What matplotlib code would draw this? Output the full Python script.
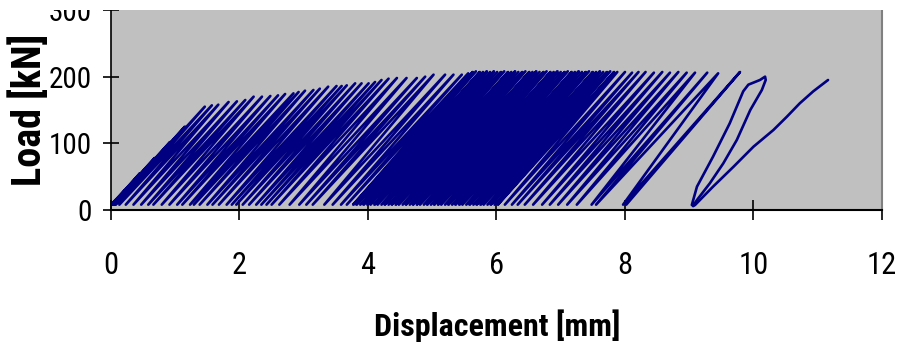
import matplotlib
matplotlib.use("Agg")
import matplotlib.pyplot as plt
from matplotlib import font_manager
from matplotlib.patches import Rectangle

# ---------------- data ----------------
min_load_kN = 8

cycle_start_mm = [
    0.00, 0.01, 0.02, 0.03, 0.05, 0.07,
    0.13, 0.23, 0.35, 0.47, 0.58, 0.66, 0.79, 0.91, 1.03, 1.11,
    1.23, 1.29, 1.38, 1.50, 1.58, 1.68, 1.80, 1.88, 1.95, 2.05,
    2.15, 2.26, 2.34, 2.42, 2.50, 2.62, 2.78, 2.93, 3.04, 3.14,
    3.32, 3.45, 3.58, 3.67,
    3.77, 3.82, 3.88, 3.93, 3.99, 4.04, 4.10, 4.15, 4.21, 4.26,
    4.32, 4.37, 4.43, 4.48, 4.54, 4.59, 4.65, 4.70, 4.76, 4.81,
    4.87, 4.92, 4.98, 5.03, 5.09, 5.14, 5.20, 5.25, 5.31, 5.36,
    5.42, 5.47, 5.53, 5.58, 5.64, 5.69, 5.75, 5.80, 5.86, 5.91,
    5.97, 6.02,
    6.13, 6.24, 6.33, 6.44, 6.57, 6.71, 6.83, 6.96, 7.10, 7.25,
    7.48, 7.55, 7.97,
]
cycle_peak_mm = [
    0.22, 0.45, 0.68, 0.92, 1.15, 1.46,
    1.57, 1.67, 1.83, 1.96, 2.09, 2.22, 2.35, 2.48, 2.60, 2.71,
    2.84, 2.92, 3.02, 3.15, 3.25, 3.38, 3.51, 3.59, 3.67, 3.80,
    3.90, 4.01, 4.11, 4.21, 4.32, 4.45, 4.60, 4.76, 4.89, 5.02,
    5.20, 5.33, 5.46, 5.56,
    5.63, 5.68, 5.74, 5.79, 5.85, 5.90, 5.96, 6.01, 6.07, 6.12,
    6.18, 6.23, 6.29, 6.34, 6.40, 6.45, 6.51, 6.56, 6.62, 6.67,
    6.73, 6.78, 6.84, 6.89, 6.95, 7.00, 7.06, 7.11, 7.17, 7.22,
    7.28, 7.33, 7.39, 7.44, 7.50, 7.55, 7.61, 7.66, 7.72, 7.77,
    7.83, 7.88,
    8.00, 8.11, 8.21, 8.32, 8.45, 8.58, 8.70, 8.83, 8.96, 9.09,
    9.28, 9.45, 9.79,
]
cycle_peak_kN = [
    30, 55, 78, 102, 125, 155,
    157, 158, 162, 163, 165, 170, 170, 171, 172, 174,
    175, 177, 179, 180, 182, 185, 186, 186, 187, 190,
    190, 190, 192, 195, 197, 198, 198, 198, 200, 203,
    203, 203, 203, 205,
    207, 208, 207, 207, 208, 207, 208, 207, 207, 208,
    207, 207, 208, 207, 207, 208, 207, 207, 208, 207,
    207, 208, 207, 207, 208, 207, 207, 208, 207, 207,
    208, 207, 207, 208, 207, 207, 208, 207, 207, 208,
    207, 207,
    207, 206, 207, 207, 206, 207, 206, 207, 206, 206,
    206, 205, 207,
]
last_unload_end_mm = 8.02

loop_disp_mm = [9.04, 9.12, 9.37, 9.63, 9.84, 9.92, 10.10, 10.18, 10.19,
                10.13, 9.95, 9.74, 9.53, 9.32, 9.12, 9.06]
loop_load_kN = [7.5, 35, 80, 130, 178, 188, 195, 200, 195,
                180, 150, 105, 70, 40, 15, 6]
final_disp_mm = [9.06, 9.09, 9.37, 9.69, 10.00, 10.31, 10.52, 10.72, 10.93, 11.16]
final_load_kN = [6, 7.5, 35, 65, 95, 120, 140, 160, 178, 195]

x_ticks = [0, 2, 4, 6, 8, 10, 12]
y_ticks = [0, 100, 200, 300]

# ---------------- fonts ----------------
fonts = font_manager.fontManager.ttflist
def has_bold(name):
    for f in fonts:
        if f.name == name:
            w = f.weight
            if isinstance(w, str):
                if "bold" in w.lower() or "black" in w.lower() or "heavy" in w.lower():
                    return True
            elif w >= 600:
                return True
    return False

avail = {f.name for f in fonts}
narrow = "Liberation Sans"
for cand in ["Liberation Sans Narrow", "Arial Narrow", "Roboto Condensed", "PT Sans Narrow",
             "Fira Sans Condensed", "IBM Plex Sans Condensed", "Archivo Narrow"]:
    if cand in avail and has_bold(cand):
        narrow = cand
        break

# ---------------- figure ----------------
fig = plt.figure(figsize=(9.04, 3.43), dpi=100)
ax = fig.add_axes([111 / 904, 1 - 210 / 343, (882 - 111) / 904, 200 / 343])
ax.set_facecolor("#C0C0C0")

xs, ys = [], []
for s, p, P in zip(cycle_start_mm, cycle_peak_mm, cycle_peak_kN):
    xs += [s, p]
    ys += [min_load_kN, P]
xs.append(last_unload_end_mm)
ys.append(min_load_kN)

line_kw = dict(color="#000080", lw=1.9, solid_joinstyle="round", solid_capstyle="round")
ax.plot(xs, ys, **line_kw)
ax.plot(loop_disp_mm, loop_load_kN, **line_kw)
ax.plot(final_disp_mm, final_load_kN, **line_kw)

ax.set_xlim(0, 12)
ax.set_ylim(0, 300)
ax.set_xticks(x_ticks)
ax.set_yticks(y_ticks)
ax.set_xticklabels([str(v) for v in x_ticks], fontfamily=narrow, fontsize=22)
ax.set_yticklabels([str(v) for v in y_ticks], fontfamily=narrow, fontsize=21)
ax.tick_params(axis="x", direction="inout", length=15, width=1.2, pad=22, colors="black")
ax.tick_params(axis="y", direction="inout", length=11, width=1.2, pad=8, colors="black")

ax.spines["top"].set_visible(False)
ax.spines["left"].set_color("black")
ax.spines["left"].set_linewidth(1.2)
ax.spines["bottom"].set_color("black")
ax.spines["bottom"].set_linewidth(1.5)
ax.spines["right"].set_color("#808080")
ax.spines["right"].set_linewidth(1.5)

fig.text(497 / 904, 1 - 326 / 343, "Displacement [mm]", ha="center", va="center",
         fontfamily=narrow, fontweight="bold", fontsize=23)
fig.text(29 / 904, 1 - 110 / 343, "Load [kN]", ha="center", va="center", rotation=90,
         fontfamily=narrow, fontweight="bold", fontsize=29)

# top strip of the original picture is cut off
fig.patches.append(Rectangle((0, 1 - 10 / 343), 1, 10 / 343, transform=fig.transFigure,
                             facecolor="white", edgecolor="none", zorder=100))

fig.savefig("out.png", dpi=100)
